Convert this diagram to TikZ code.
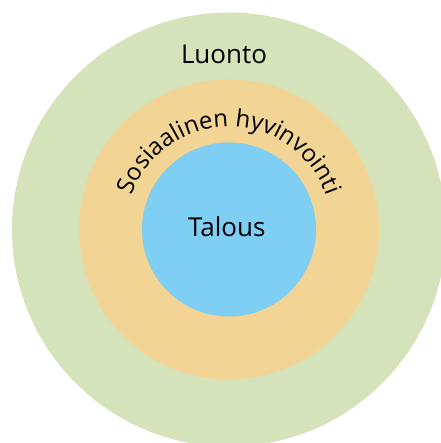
\documentclass[tikz,border=0pt]{standalone}
\usepackage{fontspec}
\setmainfont{Open Sans}
\usetikzlibrary{decorations.text}
\definecolor{natgreen}{HTML}{D5E3BB}
\definecolor{socorange}{HTML}{F2D494}
\definecolor{ecoblue}{HTML}{7FCEF3}
\tikzset{
  bigtext/.style={font=\fontsize{26bp}{30bp}\selectfont, inner sep=0pt, anchor=base, text=black}
}
\begin{document}
\begin{tikzpicture}[x=1bp,y=1bp]
\useasboundingbox (0,0) rectangle (441,443);
\begin{scope}
\clip (0,0) rectangle (441,443);
\coordinate (c) at (229,213.5);
\fill[natgreen] (c) circle[radius=217bp];
\fill[socorange] (c) circle[radius=150bp];
\fill[ecoblue] (c) circle[radius=87bp];
\end{scope}
\node[bigtext] (luonto) at (224,379.7) {Luonto};
\node[bigtext] (talous) at (226.7,206.3) {Talous};
\path[decorate, decoration={text along path, text align=center,
  text={|\fontsize{24bp}{28bp}\selectfont|Sosiaalinen hyvinvointi}}]
  (c) ++(178:103bp) arc[start angle=178, end angle=2, radius=103bp];
\end{tikzpicture}
\end{document}
